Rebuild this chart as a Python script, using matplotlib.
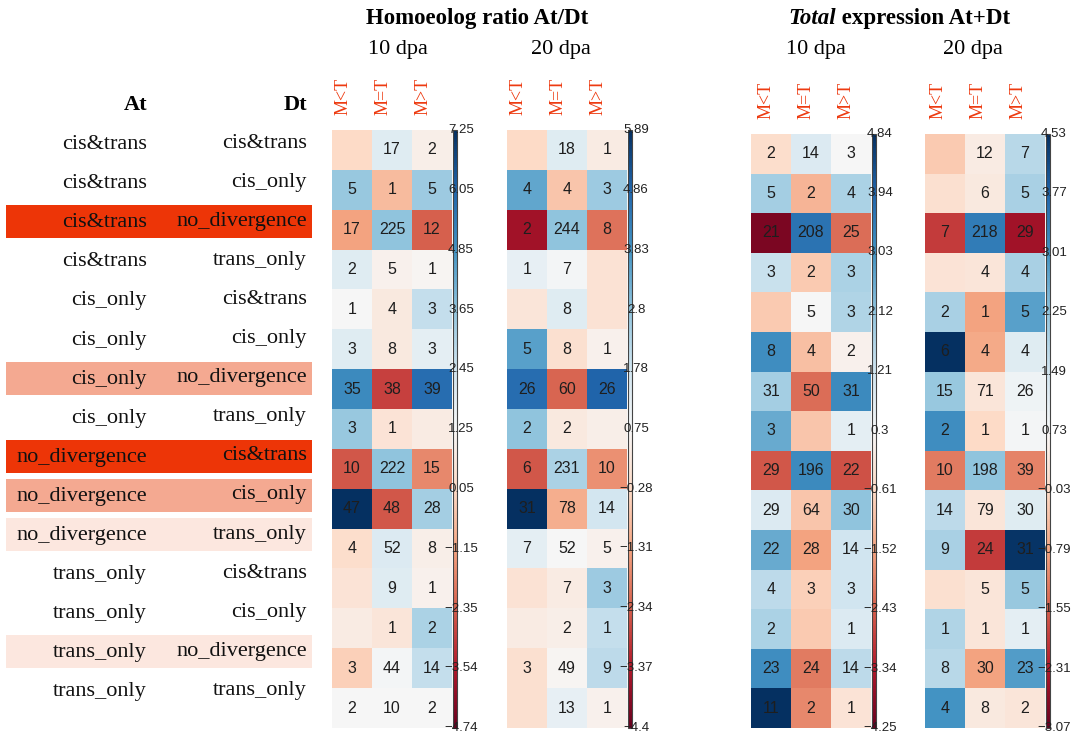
import matplotlib
matplotlib.use('Agg')
import matplotlib.pyplot as plt
from matplotlib.patches import Rectangle
from matplotlib.transforms import blended_transform_factory
import numpy as np

# regulatory class of each homoeolog pair (rows)
at_class = ['cis&trans'] * 4 + ['cis_only'] * 4 + ['no_divergence'] * 3 + ['trans_only'] * 4
dt_class = (['cis&trans', 'cis_only', 'no_divergence', 'trans_only'] * 2
            + ['cis&trans', 'cis_only', 'trans_only']
            + ['cis&trans', 'cis_only', 'no_divergence', 'trans_only'])
row_highlight = [None, None, 'high', None, None, None, 'mid', None,
                 'high', 'mid', 'low', None, None, 'low', None]
col_labels = ['M<T', 'M=T', 'M>T']

# homoeolog ratio At/Dt, 10 dpa
ratio10_scores = [
    [0.06, 1.97, 0.90], [3.53, -0.66, 3.41], [-1.14, 3.65, -2.34], [1.97, 1.02, 1.14],
    [1.26, 0.66, 2.69], [1.97, 0.66, 1.85], [5.09, -2.82, 5.81], [3.53, 0.42, 0.78],
    [-2.46, 3.65, -1.62], [7.25, -2.46, 3.29], [0.18, 2.09, 0.90], [0.42, 1.97, 1.02],
    [0.78, 0.54, 3.17], [-0.18, 1.37, 2.69], [1.26, 1.26, 1.26]]
ratio10_counts = [
    [None, 17, 2], [5, 1, 5], [17, 225, 12], [2, 5, 1], [1, 4, 3], [3, 8, 3],
    [35, 38, 39], [3, 1, None], [10, 222, 15], [47, 48, 28], [4, 52, 8],
    [None, 9, 1], [None, 1, 2], [3, 44, 14], [2, 10, 2]]
ratio10_ticks = ['7.25', '6.05', '4.85', '3.65', '2.45', '1.25', '0.05',
                 '-1.15', '-2.35', '-3.54', '-4.74']

# homoeolog ratio At/Dt, 20 dpa
ratio20_scores = [
    [-0.28, 1.36, 0.33], [3.42, -0.70, 2.60], [-3.58, 2.80, -2.03], [1.16, 0.85, 0.02],
    [0.13, 1.36, 0.02], [3.52, -0.08, 0.54], [4.66, -2.24, 4.86], [2.80, 0.23, 0.44],
    [-2.44, 2.39, -1.62], [5.89, -1.11, 1.67], [1.26, 0.75, 0.54], [0.02, 0.33, 2.60],
    [0.33, 0.44, 1.98], [-0.08, 0.64, 2.08], [-0.08, 1.16, 0.54]]
ratio20_counts = [
    [None, 18, 1], [4, 4, 3], [2, 244, 8], [1, 7, None], [None, 8, None], [5, 8, 1],
    [26, 60, 26], [2, 2, None], [6, 231, 10], [31, 78, 14], [7, 52, 5],
    [None, 7, 3], [None, 2, 1], [3, 49, 9], [None, 13, 1]]
ratio20_ticks = ['5.89', '4.86', '3.83', '2.8', '1.78', '0.75', '-0.28',
                 '-1.31', '-2.34', '-3.37', '-4.4']

# total expression At+Dt, 10 dpa
total10_scores = [
    [-0.52, 0.93, 0.30], [1.84, -1.25, 1.75], [-3.98, 3.66, -2.25], [1.29, -0.89, 1.75],
    [-0.89, 0.30, 1.66], [3.11, -1.07, 0.11], [1.84, -2.25, 3.20], [2.57, -0.98, 0.75],
    [-2.52, 3.20, -2.61], [0.93, -0.98, 2.11], [2.57, -1.52, 1.20], [1.48, -0.80, 1.20],
    [1.75, -0.89, 0.93], [3.11, -2.07, 1.48], [4.84, -1.89, -0.34]]
total10_counts = [
    [2, 14, 3], [5, 2, 4], [21, 208, 25], [3, 2, 3], [None, 5, 3], [8, 4, 2],
    [31, 50, 31], [3, None, 1], [29, 196, 22], [29, 64, 30], [22, 28, 14],
    [4, 3, 3], [2, None, 1], [23, 24, 14], [11, 2, 1]]
total10_ticks = ['4.84', '3.94', '3.03', '2.12', '1.21', '0.3', '-0.61',
                 '-1.52', '-2.43', '-3.34', '-4.25']

# total expression At+Dt, 20 dpa
total20_scores = [
    [-0.26, 0.43, 1.79], [0.12, 0.35, 1.95], [-1.93, 3.39, -2.46], [0.20, 0.27, 1.95],
    [1.95, -0.79, 2.78], [4.53, -0.71, 1.19], [2.17, 0.27, 0.88], [3.09, -0.03, 0.81],
    [-1.25, 2.25, -1.17], [1.72, 0.27, 1.19], [1.95, -1.93, 4.45], [0.12, 0.27, 2.17],
    [1.87, 0.27, 1.11], [1.79, -0.79, 2.86], [3.01, 0.35, 0.27]]
total20_counts = [
    [None, 12, 7], [None, 6, 5], [7, 218, 29], [None, 4, 4], [2, 1, 5], [6, 4, 4],
    [15, 71, 26], [2, 1, 1], [10, 198, 39], [14, 79, 30], [9, 24, 31],
    [None, 5, 5], [1, 1, 1], [8, 30, 23], [4, 8, 2]]
total20_ticks = ['4.53', '3.77', '3.01', '2.25', '1.49', '0.73', '-0.03',
                 '-0.79', '-1.55', '-2.31', '-3.07']

W, H = 1074, 736
SERIF = 'Liberation Serif'
SANS = 'Liberation Sans'
ACCENT = '#ed3a10'
highlight_colors = {'high': '#ed3507', 'mid': '#f4a991', 'low': '#fce7df'}

fig = plt.figure(figsize=(W / 100, H / 100), dpi=100)
base = fig.add_axes([0, 0, 1, 1])
base.set_xlim(0, W)
base.set_ylim(H, 0)
base.axis('off')
base.set_zorder(10)  # text layer sits above the heatmaps and colour keys


def px_axes(x0, y0, x1, y1):
    return fig.add_axes([x0 / W, 1 - y1 / H, (x1 - x0) / W, (y1 - y0) / H])


def draw_panel(scores, counts, ticks, x0, y_top, label_shift):
    lo, hi = float(ticks[-1]), float(ticks[0])
    ax = px_axes(x0, y_top, x0 + 120, 728)
    im = ax.imshow(np.array(scores), cmap='RdBu', vmin=lo, vmax=hi,
                   aspect='auto', interpolation='nearest')
    for i, row in enumerate(counts):
        for j, n in enumerate(row):
            if n is not None:
                ax.text(j, i, str(n), ha='center', va='center', fontsize=11.5,
                        color='#1e1e1e', family=SANS)
    ax.set_xticks([])
    ax.set_yticks([])
    for s in ax.spines.values():
        s.set_visible(False)

    # thin colour key right next to the heatmap
    cax = px_axes(x0 + 121, y_top, x0 + 125, 728)
    cb = fig.colorbar(im, cax=cax)
    cb.outline.set_linewidth(0.8)
    cb.outline.set_edgecolor('#444444')
    cb.set_ticks([])
    trans = blended_transform_factory(base.transData, cax.transData)
    for t in ticks:
        base.text(x0 + 129, float(t), t.replace('-', '\u2212'), transform=trans,
                  ha='center', va='center', fontsize=9.5, color='#222222',
                  family=SANS)

    for j, name in enumerate(col_labels):
        base.text(x0 + 20 + 40 * j - label_shift, y_top - 15, name, rotation=90,
                  ha='center', va='bottom', fontsize=13, color=ACCENT, family=SERIF)


draw_panel(ratio10_scores, ratio10_counts, ratio10_ticks, 332, 130, 9)
draw_panel(ratio20_scores, ratio20_counts, ratio20_ticks, 507, 130, 9)
draw_panel(total10_scores, total10_counts, total10_ticks, 751, 134, 4.5)
draw_panel(total20_scores, total20_counts, total20_ticks, 925, 134, 6.5)

# left table of At / Dt classes
base.text(147, 110, 'At', ha='right', va='baseline', fontsize=16, fontweight='bold', family=SERIF)
base.text(307, 110, 'Dt', ha='right', va='baseline', fontsize=16, fontweight='bold', family=SERIF)
for i, (a, d) in enumerate(zip(at_class, dt_class)):
    yc = 142 + i * 39.1
    if row_highlight[i] is not None:
        base.add_patch(Rectangle((6, yc + 1.5 - 16.5), 306, 33,
                                 facecolor=highlight_colors[row_highlight[i]],
                                 edgecolor='none', zorder=0))
    base.text(147, yc + 7, a, ha='right', va='baseline', fontsize=16, family=SERIF, color='#111111')
    base.text(307, yc + 5.5, d, ha='right', va='baseline', fontsize=16, family=SERIF, color='#111111')

# panel titles
base.text(477.5, 24, 'Homoeolog ratio At/Dt', ha='center', va='baseline',
          fontsize=16.5, fontweight='bold', family=SERIF)
base.text(368, 54, '10 dpa', ha='left', va='baseline', fontsize=16, family=SERIF)
base.text(591, 54, '20 dpa', ha='right', va='baseline', fontsize=16, family=SERIF)

t1 = base.text(0, 24, 'Total', ha='left', va='baseline', fontsize=16.5,
               fontweight='bold', fontstyle='italic', family=SERIF)
t2 = base.text(0, 24, ' expression At+Dt', ha='left', va='baseline', fontsize=16.5,
               fontweight='bold', family=SERIF)
renderer = fig.canvas.get_renderer()
w1 = t1.get_window_extent(renderer).width
w2 = t2.get_window_extent(renderer).width
start = 899.5 - (w1 + w2) / 2
t1.set_x(start)
t2.set_x(start + w1)
base.text(786, 54, '10 dpa', ha='left', va='baseline', fontsize=16, family=SERIF)
base.text(1003, 54, '20 dpa', ha='right', va='baseline', fontsize=16, family=SERIF)

fig.savefig('out.png', dpi=100)
